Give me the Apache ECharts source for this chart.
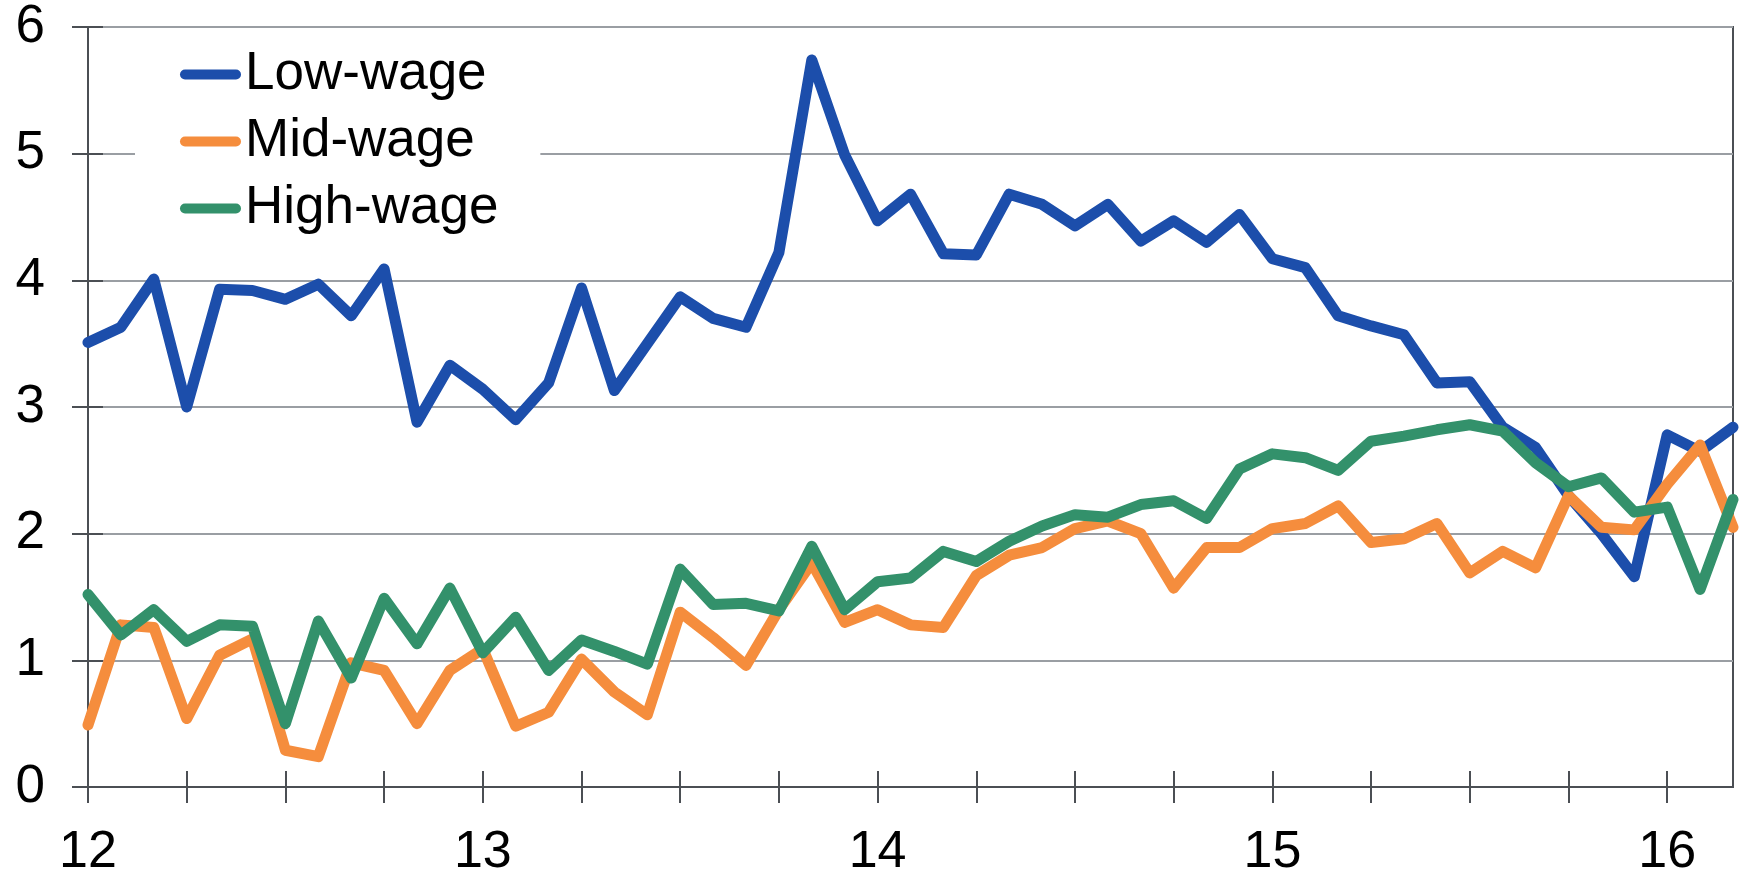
<!DOCTYPE html>
<html>
<head>
<meta charset="utf-8">
<script src="https://cdn.jsdelivr.net/npm/echarts@6/dist/echarts.min.js"></script>
<style>
  html, body { margin: 0; padding: 0; background: #fff; }
  #chart { width: 1739px; height: 879px; }
</style>
</head>
<body>
<div id="chart"></div>
<script>
// monthly, Jan 2012 .. Mar 2016
const years = ['12', '13', '14', '15', '16']
const months = []
years.forEach(y => {
  for (let m = 1; m <= 12; m++) {
    if (y === '16' && m > 3) break
    months.push(y + '-' + (m < 10 ? '0' + m : m))
  }
})

const lowWage = [3.51, 3.63, 4.01, 3.0, 3.93, 3.92, 3.85, 3.97, 3.72, 4.09,
  2.88, 3.33, 3.14, 2.9, 3.19, 3.94, 3.13, 3.5, 3.87, 3.7,
  3.63, 4.22, 5.74, 4.99, 4.47, 4.68, 4.21, 4.2, 4.68, 4.6,
  4.43, 4.6, 4.31, 4.47, 4.3, 4.52, 4.17, 4.1, 3.72, 3.64,
  3.57, 3.19, 3.2, 2.84, 2.68, 2.3, 2.0, 1.66, 2.78, 2.65, 2.84]
const midWage = [0.49, 1.28, 1.26, 0.54, 1.04, 1.17, 0.29, 0.24, 0.98, 0.92,
  0.5, 0.92, 1.09, 0.48, 0.59, 1.01, 0.75, 0.57, 1.38, 1.18,
  0.96, 1.4, 1.77, 1.3, 1.4, 1.28, 1.26, 1.67, 1.83, 1.89,
  2.04, 2.1, 2.0, 1.57, 1.89, 1.89, 2.04, 2.08, 2.22, 1.93,
  1.96, 2.08, 1.69, 1.86, 1.73, 2.3, 2.05, 2.03, 2.39, 2.7, 2.05]
const highWage = [1.52, 1.2, 1.4, 1.15, 1.28, 1.27, 0.5, 1.31, 0.86, 1.49,
  1.13, 1.57, 1.06, 1.34, 0.92, 1.16, 1.07, 0.97, 1.72, 1.44,
  1.45, 1.39, 1.9, 1.4, 1.62, 1.65, 1.86, 1.78, 1.94, 2.06,
  2.15, 2.13, 2.23, 2.26, 2.12, 2.51, 2.63, 2.6, 2.5, 2.73,
  2.77, 2.82, 2.86, 2.81, 2.56, 2.37, 2.44, 2.17, 2.21, 1.56, 2.27]

const names = ['Low-wage', 'Mid-wage', 'High-wage']
const colors = ['#1c4eab', '#f58d3d', '#33916b']
const seriesData = [lowWage, midWage, highWage]

const axisColor = '#4b4f54'
const gridColor = '#9a9ea3'
const font = 'Liberation Sans, Arial, sans-serif'

const chart = echarts.init(document.getElementById('chart'))

const option = {
  animation: false,
  backgroundColor: '#fff',
  grid: {
    left: 88,
    right: 6,
    top: 27,
    bottom: 87,
    show: true,
    borderColor: axisColor,
    borderWidth: 2
  },
  legend: {
    orient: 'vertical',
    left: 135,
    top: 38,
    padding: [10, 42, 10, 45],
    backgroundColor: '#fff',
    itemWidth: 61,
    itemHeight: 10,
    itemGap: 14,
    icon: 'path://M5,0 L56,0 A5,5 0 0 1 56,10 L5,10 A5,5 0 0 1 5,0 Z',
    textStyle: { color: '#000', fontSize: 53, fontFamily: font, padding: [0, 0, 0, -1] },
    data: names
  },
  xAxis: [
    {
      type: 'category',
      data: months,
      boundaryGap: false,
      axisLine: { lineStyle: { color: axisColor, width: 2 } },
      axisTick: { interval: 2, length: 16, lineStyle: { color: axisColor, width: 2 } },
      axisLabel: {
        interval: 11,
        margin: 40,
        color: '#000',
        fontSize: 52,
        fontFamily: font,
        formatter: v => v.slice(0, 2)
      },
      splitLine: { show: false }
    },
    {
      // inner half of the crossing ticks
      type: 'category',
      data: months,
      position: 'bottom',
      boundaryGap: false,
      axisLine: { show: false },
      axisTick: { inside: true, interval: 2, length: 16, lineStyle: { color: axisColor, width: 2 } },
      axisLabel: { show: false },
      splitLine: { show: false }
    }
  ],
  yAxis: [
    {
      type: 'value',
      min: 0,
      max: 6,
      interval: 1,
      axisLine: { show: true, lineStyle: { color: axisColor, width: 2 } },
      axisTick: { show: true, length: 16, lineStyle: { color: axisColor, width: 2 } },
      axisLabel: { margin: 43, color: '#000', fontSize: 53, fontFamily: font },
      splitLine: { show: true, lineStyle: { color: gridColor, width: 2 } }
    },
    {
      type: 'value',
      min: 0,
      max: 6,
      interval: 1,
      position: 'left',
      axisLine: { show: false },
      axisTick: { show: true, inside: true, length: 15, lineStyle: { color: axisColor, width: 2 } },
      axisLabel: { show: false },
      splitLine: { show: false }
    }
  ],
  series: names.map((name, i) => ({
    name: name,
    type: 'line',
    data: seriesData[i],
    xAxisIndex: 0,
    yAxisIndex: 0,
    showSymbol: false,
    symbol: 'none',
    color: colors[i],
    lineStyle: { color: colors[i], width: 11, join: 'round', cap: 'round' },
    z: 3 + i
  }))
}

chart.setOption(option)
</script>
</body>
</html>
